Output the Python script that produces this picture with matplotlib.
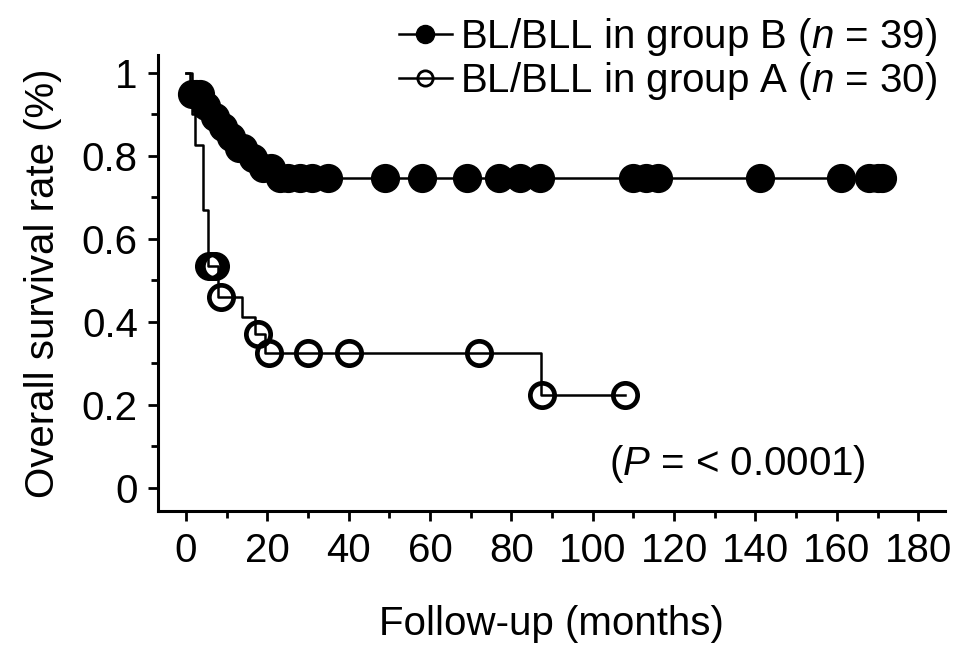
import numpy as np
import matplotlib.pyplot as plt
from matplotlib.lines import Line2D
from matplotlib.ticker import MultipleLocator, FormatStrFormatter

plt.rcParams['font.family'] = ['Liberation Sans', 'DejaVu Sans']
plt.rcParams['mathtext.fontset'] = 'custom'
plt.rcParams['mathtext.rm'] = 'Liberation Sans'
plt.rcParams['mathtext.it'] = 'Liberation Sans:italic'

# Kaplan-Meier step curves (month, survival after the step)
b_times = [0, 1, 4, 6, 8, 10, 12, 15, 18, 22]
b_surv = [1.0, 0.95, 0.92, 0.895, 0.87, 0.845, 0.82, 0.795, 0.77, 0.746]
b_end = 171
b_censor = [1.5, 2.5, 3.5, 5, 7, 9, 11, 13, 14, 16.5, 19, 21,
            23, 25, 28, 31, 35, 49, 58, 69, 77, 82, 87,
            110, 113, 116, 141, 161, 168, 170, 171]

a_times = [0, 1.5, 2.2, 4.2, 5.4, 7.9, 13.8, 17, 19.5, 87.2]
a_surv = [1.0, 0.9, 0.826, 0.67, 0.535, 0.459, 0.411, 0.37, 0.324, 0.223]
a_end = 108
a_censor = [5.6, 6.4, 7.2, 8.6, 17.8, 20.5, 30, 40, 72, 87.5, 108]

label_b = 'BL/BLL in group B ($n$ = 39)'
label_a = 'BL/BLL in group A ($n$ = 30)'
p_text = '($P$ = < 0.0001)'


def step_value(times, surv, t):
    idx = np.searchsorted(times, t, side='right') - 1
    return np.asarray(surv)[idx]


def km_curve(ax, times, surv, end, censor, filled):
    xs = list(times) + [end]
    ys = list(surv) + [surv[-1]]
    ax.step(xs, ys, where='post', color='black', lw=1.8, zorder=2)
    cy = step_value(times, surv, censor)
    if filled:
        ax.plot(censor, cy, 'o', ms=20, mfc='black', mec='black', zorder=3)
    else:
        ax.plot(censor, cy, 'o', ms=17.5, mfc='none', mec='black', mew=3.4, zorder=3)


fig = plt.figure(figsize=(9.54, 6.48), dpi=100)
ax = fig.add_axes([0.1656, 0.2119, 0.825, 0.703])

km_curve(ax, b_times, b_surv, b_end, b_censor, True)
km_curve(ax, a_times, a_surv, a_end, a_censor, False)

ax.set_xlim(-6.9, 186.6)
ax.set_ylim(-0.055, 1.043)
ax.xaxis.set_major_locator(MultipleLocator(20))
ax.xaxis.set_minor_locator(MultipleLocator(10))
ax.yaxis.set_major_locator(MultipleLocator(0.2))
ax.yaxis.set_minor_locator(MultipleLocator(0.1))
ax.yaxis.set_major_formatter(FormatStrFormatter('%g'))

for side in ['top', 'right']:
    ax.spines[side].set_visible(False)
for side in ['left', 'bottom']:
    ax.spines[side].set_linewidth(2.2)

ax.tick_params(which='major', direction='out', length=7.5, width=2.0,
               labelsize=29)
ax.tick_params(which='minor', direction='out', length=5, width=2.0)
ax.tick_params(axis='x', which='major', pad=8)
ax.tick_params(axis='y', which='major', pad=7)

ax.set_xlabel('Follow-up (months)', fontsize=29, labelpad=25)
ax.set_ylabel('Overall survival rate (%)', fontsize=29, labelpad=14)

ax.text(104, 0.058, p_text, fontsize=29, ha='left', va='center')

handles = [
    Line2D([], [], color='black', lw=1.8, marker='o', ms=13, mfc='black', mec='black'),
    Line2D([], [], color='black', lw=1.8, marker='o', ms=11, mfc='none', mec='black', mew=2),
]
fig.legend(handles, [label_b, label_a], loc='upper right',
           bbox_to_anchor=(0.982, 0.975), frameon=False, fontsize=29,
           handlelength=1.3, handletextpad=0.2, labelspacing=0.05,
           borderpad=0, borderaxespad=0)

fig.savefig('out.png', dpi=100)
